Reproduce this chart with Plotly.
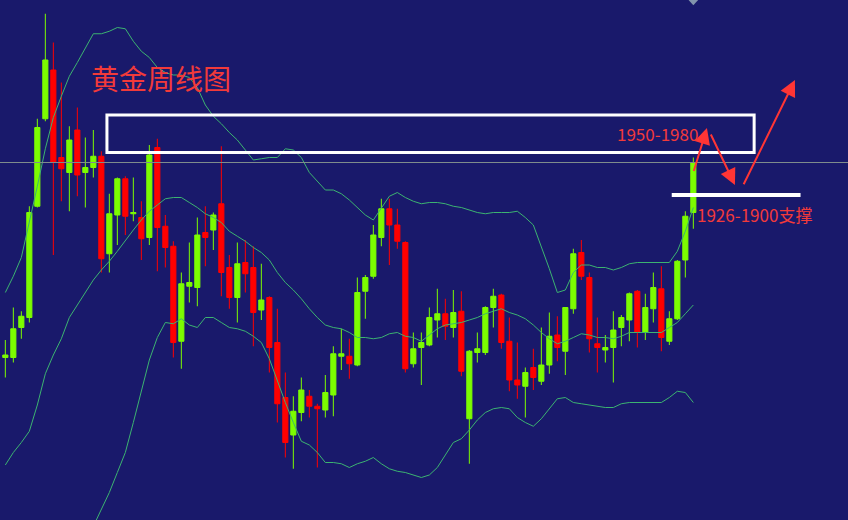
import plotly.graph_objects as go

# weekly gold candles (index = week)
opens = [1786, 1786, 1810, 1818, 1907, 1977, 2016, 1946, 1934, 1968,
         1934, 1938, 1947, 1869, 1900, 1929, 1901, 1898, 1882, 1954,
         1891, 1875, 1799, 1843, 1842, 1886, 1888, 1909, 1858, 1834,
         1862, 1858, 1824, 1834, 1798, 1754, 1724, 1742, 1755, 1747,
         1744, 1756, 1787, 1787, 1780, 1839, 1851, 1882, 1905, 1892,
         1878, 1781, 1794, 1796, 1816, 1821, 1810, 1823, 1737, 1790,
         1790, 1826, 1836, 1799, 1768, 1763, 1778, 1767, 1780, 1804,
         1791, 1825, 1870, 1850, 1797, 1792, 1794, 1810, 1816, 1839,
         1806, 1825, 1841, 1799, 1817, 1864, 1902]
highs = [1800, 1826, 1823, 1907, 1977, 2061, 2038, 2006, 1971, 1986,
         1962, 1968, 1951, 1917, 1930, 1931, 1930, 1911, 1956, 1961,
         1900, 1879, 1854, 1878, 1898, 1907, 1902, 1955, 1868, 1878,
         1880, 1875, 1861, 1835, 1825, 1774, 1755, 1770, 1760, 1749,
         1772, 1795, 1809, 1801, 1850, 1852, 1892, 1913, 1913, 1905,
         1879, 1806, 1806, 1826, 1841, 1833, 1840, 1839, 1792, 1806,
         1827, 1841, 1837, 1818, 1798, 1778, 1793, 1810, 1822, 1819,
         1826, 1873, 1880, 1854, 1818, 1804, 1823, 1820, 1838, 1840,
         1837, 1854, 1859, 1823, 1864, 1903, 1946]
lows = [1770, 1782, 1801, 1814, 1906, 1975, 1868, 1911, 1903, 1915,
        1906, 1930, 1854, 1854, 1876, 1884, 1895, 1864, 1876, 1855,
        1858, 1786, 1777, 1830, 1827, 1859, 1872, 1835, 1825, 1814,
        1838, 1795, 1816, 1774, 1734, 1706, 1697, 1735, 1738, 1698,
        1738, 1739, 1776, 1769, 1779, 1817, 1849, 1875, 1860, 1873,
        1774, 1778, 1764, 1795, 1802, 1800, 1802, 1771, 1701, 1782,
        1788, 1810, 1793, 1759, 1753, 1738, 1760, 1764, 1773, 1783,
        1772, 1821, 1848, 1790, 1774, 1782, 1766, 1795, 1799, 1794,
        1800, 1814, 1791, 1796, 1816, 1850, 1889]
closes = [1788, 1809, 1819, 1902, 1970, 2024, 1942, 1937, 1960, 1932,
          1938, 1947, 1865, 1901, 1929, 1899, 1902, 1881, 1948, 1890,
          1874, 1798, 1845, 1846, 1884, 1882, 1900, 1854, 1834, 1861,
          1853, 1822, 1832, 1794, 1749, 1718, 1743, 1760, 1747, 1745,
          1758, 1789, 1789, 1781, 1838, 1850, 1884, 1905, 1892, 1879,
          1777, 1793, 1798, 1818, 1821, 1811, 1822, 1775, 1791, 1793,
          1826, 1835, 1798, 1768, 1764, 1774, 1770, 1780, 1803, 1794,
          1826, 1869, 1851, 1801, 1794, 1794, 1808, 1818, 1837, 1806,
          1826, 1842, 1802, 1817, 1863, 1899, 1942]

# Bollinger bands as drawn on the chart
boll_upper = [1838, 1851, 1866, 1894, 1923, 1953, 1978, 1995, 2011, 2022,
              2034, 2045, 2045, 2047, 2050, 2049, 2039, 2031, 2026, 2018,
              2014, 2012, 2012, 2010, 2002, 1988, 1979, 1973, 1966, 1960,
              1952, 1944, 1945, 1946, 1946, 1953, 1952, 1946, 1934, 1927,
              1920, 1920, 1917, 1912, 1906, 1900, 1896, 1905, 1915, 1918,
              1914, 1911, 1909, 1910, 1910, 1909, 1907, 1906, 1904, 1902,
              1901, 1902, 1902, 1902, 1903, 1898, 1892, 1875, 1857, 1838,
              1840, 1854, 1860, 1860, 1858, 1858, 1856, 1858, 1861, 1862,
              1862, 1862, 1862, 1862, 1871, 1887, 1906]
boll_mid = [1700, 1710, 1718, 1727, 1748, 1773, 1788, 1801, 1818, 1828,
            1838, 1848, 1856, 1863, 1871, 1880, 1888, 1896, 1903, 1908,
            1913, 1914, 1914, 1910, 1906, 1901, 1898, 1894, 1887, 1883,
            1879, 1874, 1870, 1864, 1854, 1846, 1840, 1833, 1825, 1818,
            1812, 1810, 1809, 1806, 1802, 1802, 1801, 1802, 1805, 1806,
            1803, 1802, 1799, 1804, 1809, 1812, 1813, 1814, 1816, 1818,
            1821, 1823, 1825, 1822, 1820, 1817, 1812, 1806, 1801, 1797,
            1799, 1802, 1805, 1804, 1802, 1802, 1801, 1803, 1806, 1806,
            1806, 1806, 1806, 1810, 1814, 1821, 1828]
boll_lower = [None] * 11 + [
    1651, 1664, 1678, 1694, 1710, 1734, 1758, 1784, 1802,
    1814, 1813, 1817, 1812, 1810, 1818, 1818, 1814, 1810, 1809,
    1807, 1803, 1798, 1785, 1767, 1750, 1734, 1719, 1716, 1710,
    1702, 1702, 1701, 1698, 1701, 1703, 1706, 1701, 1697, 1695,
    1694, 1692, 1690, 1692, 1698, 1708, 1718, 1721, 1728, 1736,
    1742, 1745, 1746, 1745, 1738, 1734, 1731, 1737, 1745, 1753,
    1754, 1750, 1749, 1748, 1747, 1746, 1746, 1749, 1750, 1750,
    1750, 1750, 1750, 1754, 1759, 1758, 1750]

weeks = list(range(len(closes)))

ZONE_LOW, ZONE_HIGH = 1950, 1980
SUPPORT = 1916

BG = "#19196b"
UP = "#7cfc00"
DOWN = "#ff0000"
BAND = "#3cb371"
RED_TXT = "#f23a3a"
CJK = "Noto Sans CJK SC"

fig = go.Figure()

for band in (boll_upper, boll_mid, boll_lower):
    fig.add_trace(go.Scatter(x=weeks, y=band, mode="lines",
                             line=dict(color=BAND, width=1),
                             hoverinfo="skip", showlegend=False))

fig.add_trace(go.Candlestick(
    x=weeks, open=opens, high=highs, low=lows, close=closes,
    increasing=dict(line=dict(color=UP, width=1), fillcolor=UP),
    decreasing=dict(line=dict(color=DOWN, width=1), fillcolor=DOWN),
    whiskerwidth=0, showlegend=False,
))

last = weeks[-1]

# current price line
fig.add_hline(y=closes[-1], line=dict(color="#7f8c8c", width=1))

# resistance zone box and support line
fig.add_shape(type="rect", x0=12.7, x1=93.6, y0=ZONE_LOW, y1=ZONE_HIGH,
              line=dict(color="white", width=3))
fig.add_shape(type="line", x0=83.3, x1=99.4, y0=SUPPORT, y1=SUPPORT,
              line=dict(color="white", width=4))

# small marker at top
fig.add_shape(type="path", xref="x", yref="paper",
              path=f"M {last - 0.6} 1 L {last + 0.6} 1 L {last} 0.99 Z",
              fillcolor="#8294ac", line=dict(width=0))

# expected path arrows
arrows = [
    (last, closes[-1] - 8, last + 1.7, 1969.6),
    (last + 2.1, 1965.6, last + 5.2, 1924),
    (last + 6.2, 1923.4, last + 12.7, 2008),
]
for x0, y0, x1, y1 in arrows:
    fig.add_annotation(x=x1, y=y1, ax=x0, ay=y0, xref="x", yref="y",
                       axref="x", ayref="y", text="", showarrow=True,
                       arrowhead=2, arrowsize=1.6, arrowwidth=2,
                       arrowcolor="#ff3535", standoff=0, startstandoff=0)

fig.add_annotation(x=19.4, y=2009.5, text="黄金周线图", showarrow=False,
                   font=dict(family=CJK, size=28, color=RED_TXT))
fig.add_annotation(x=76.2, y=1965.6, text="1950-1980", showarrow=False,
                   xanchor="left", font=dict(family=CJK, size=17, color=RED_TXT))
fig.add_annotation(x=86.2, y=1900.4, text="1926-1900支撑", showarrow=False,
                   xanchor="left", font=dict(family=CJK, size=17, color=RED_TXT))

fig.update_layout(
    width=848, height=520,
    margin=dict(l=0, r=0, t=0, b=0),
    paper_bgcolor=BG, plot_bgcolor=BG,
    boxgap=0.2, boxgroupgap=0.2,
    xaxis=dict(range=[-0.667, 105.333], visible=False,
               rangeslider=dict(visible=False), showgrid=False),
    yaxis=dict(range=[1656, 2072], visible=False, showgrid=False),
    hovermode=False,
)

fig.write_html("out.html", config={"displayModeBar": False},
               post_script="document.body.style.margin='0';")
